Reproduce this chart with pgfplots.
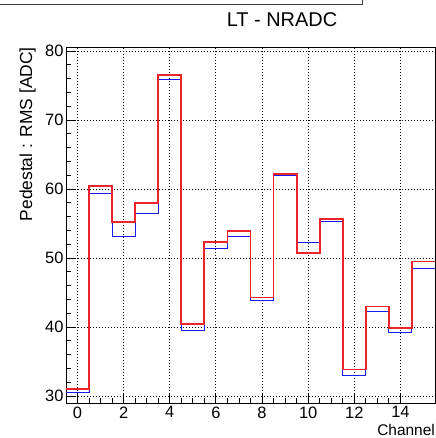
\documentclass[border=0pt]{standalone}
\usepackage{fontspec}
\setmainfont{Liberation Sans}
\usepackage{pgfplots}
\pgfplotsset{compat=1.18}
\definecolor{hred}{RGB}{235,35,45}
\definecolor{hblue}{RGB}{25,25,235}
\begin{document}
\begin{tikzpicture}
\path[use as bounding box] (0,0) rectangle (436bp,-438bp);
\draw[line width=0.9bp, black!75] (-5bp,-4bp) -- (362bp,-4bp) -- (362bp,5bp);
\node[font=\fontsize{20}{24}\selectfont] at (282bp,-19.5bp) {LT - NRADC};
\begin{axis}[
  at={(66bp,-403bp)}, anchor=south west,
  scale only axis, width=369bp, height=356bp,
  xmin=-0.5, xmax=15.5, ymin=29.0, ymax=80.6,
  xtick={0,2,...,14}, ytick={30,40,...,80},
  minor x tick num=3, minor y tick num=4,
  tick align=inside, axis line style={line width=1bp},
  major tick length=10bp, minor tick length=5bp,
  tick style={black, line width=0.9bp},
  xtick pos=bottom, ytick pos=left,
  grid=major,
  major grid style={black, line width=0.9bp, dash pattern=on 1bp off 2bp},
  ticklabel style={font=\fontsize{16.5}{19}\selectfont},
  yticklabel style={xshift=1bp},
  /pgf/number format/assume math mode=true,
  xlabel={Channel},
  xlabel style={at={(axis description cs:1,-0.09)}, anchor=base east, inner sep=0pt, font=\fontsize{15.5}{18}\selectfont},
  ylabel={Pedestal : RMS [ADC]},
  ylabel style={at={(axis description cs:-0.104,1.0)}, anchor=east, inner sep=0pt, font=\fontsize{17.5}{20}\selectfont},
]
\addplot[hblue, line width=1.0bp, const plot mark left] coordinates {
(-0.5,30.5) (0.5,59.3) (1.5,53.1) (2.5,56.5) (3.5,75.9) (4.5,39.5) (5.5,51.4) (6.5,53.2)
(7.5,43.8) (8.5,62.0) (9.5,52.3) (10.5,55.3) (11.5,33.0) (12.5,42.3) (13.5,39.2) (14.5,48.5) (15.5,48.5)
};
\addplot[hred, line width=1.8bp, const plot mark left] coordinates {
(-0.5,31.0) (0.5,60.4) (1.5,55.2) (2.5,58.0) (3.5,76.6) (4.5,40.5) (5.5,52.3) (6.5,53.9)
(7.5,44.3) (8.5,62.2) (9.5,50.7) (10.5,55.7) (11.5,33.85) (12.5,43.0) (13.5,39.9) (14.5,49.5) (15.5,49.5)
};
\end{axis}
\end{tikzpicture}
\end{document}
